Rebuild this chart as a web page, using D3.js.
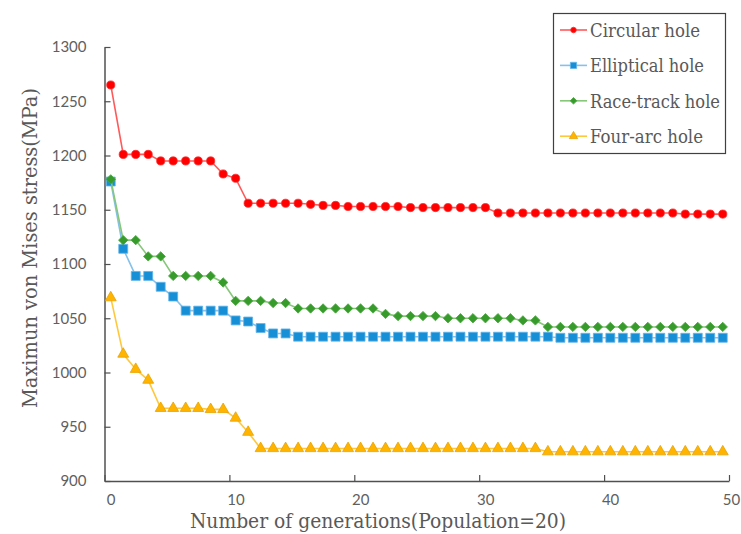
<!DOCTYPE html>
<html>
<head>
<meta charset="utf-8">
<script src="https://cdn.jsdelivr.net/npm/d3@7"></script>
<style>
  body { margin: 0; background: #fff; }
  svg { display: block; }
</style>
</head>
<body>
<script>
// generation index (categories)
const generations = d3.range(0, 50);
const xTicks = [0, 10, 20, 30, 40, 50];
const yTicks = [900, 950, 1000, 1050, 1100, 1150, 1200, 1250, 1300];
const seriesNames = ["Circular hole", "Elliptical hole", "Race-track hole", "Four-arc hole"];

const circular = [1265, 1201, 1201, 1201, 1195, 1195, 1195, 1195, 1195, 1183,
  1179, 1156, 1156, 1156, 1156, 1156, 1155, 1154, 1154, 1153,
  1153, 1153, 1153, 1153, 1152, 1152, 1152, 1152, 1152, 1152,
  1152, 1147, 1147, 1147, 1147, 1147, 1147, 1147, 1147, 1147,
  1147, 1147, 1147, 1147, 1147, 1147, 1146, 1146, 1146, 1146];
const elliptical = [1176, 1114, 1089, 1089, 1079, 1070, 1057, 1057, 1057, 1057,
  1048, 1047, 1041, 1036, 1036, 1033, 1033, 1033, 1033, 1033,
  1033, 1033, 1033, 1033, 1033, 1033, 1033, 1033, 1033, 1033,
  1033, 1033, 1033, 1033, 1033, 1033, 1032, 1032, 1032, 1032,
  1032, 1032, 1032, 1032, 1032, 1032, 1032, 1032, 1032, 1032];
const raceTrack = [1178, 1122, 1122, 1107, 1107, 1089, 1089, 1089, 1089, 1083,
  1066, 1066, 1066, 1064, 1064, 1059, 1059, 1059, 1059, 1059,
  1059, 1059, 1054, 1052, 1052, 1052, 1052, 1050, 1050, 1050,
  1050, 1050, 1050, 1048, 1048, 1042, 1042, 1042, 1042, 1042,
  1042, 1042, 1042, 1042, 1042, 1042, 1042, 1042, 1042, 1042];
const fourArc = [1069, 1017, 1003, 993, 967, 967, 967, 967, 966, 966,
  958, 945, 930, 930, 930, 930, 930, 930, 930, 930,
  930, 930, 930, 930, 930, 930, 930, 930, 930, 930,
  930, 930, 930, 930, 930, 927, 927, 927, 927, 927,
  927, 927, 927, 927, 927, 927, 927, 927, 927, 927];

const width = 741, height = 534;
const plotL = 104.5, plotR = 729, plotT = 47, plotB = 481;

const svg = d3.select("body").append("svg")
  .attr("width", width)
  .attr("height", height);

const x = d3.scaleLinear().domain([0, 50]).range([plotL, plotR]);
const band = d3.scaleBand().domain(generations).range([plotL, plotR]);
const y = d3.scaleLinear().domain([900, 1300]).range([plotB, plotT]);

const styles = [
  { data: circular, line: "#ff5a5a", fill: "#ff0000", stroke: "#ff2a2a", type: d3.symbolCircle, size: 52, lsize: 24, rot: 0 },
  { data: elliptical, line: "#85c1e9", fill: "#168fd6", stroke: "#62b4ea", type: d3.symbolSquare, size: 80, lsize: 38, rot: 0 },
  { data: raceTrack, line: "#86c77a", fill: "#379b2c", stroke: "#4aa83e", type: d3.symbolSquare, size: 44, lsize: 22, rot: 45 },
  { data: fourArc, line: "#ffc83c", fill: "#ffb400", stroke: "#e9a200", type: d3.symbolTriangle, size: 52, lsize: 30, rot: 0 }
];

const cx = (i) => band(i) + band.bandwidth() / 2;

// axes
const xAxis = d3.axisBottom(x)
  .tickValues(xTicks)
  .tickFormat(d3.format("d"))
  .tickSizeInner(-6)
  .tickSizeOuter(0)
  .tickPadding(13);
const gx = svg.append("g")
  .attr("transform", `translate(0,${plotB})`)
  .call(xAxis);
gx.selectAll("text").attr("x", (d) => d === 50 ? 2 : 6);

const yAxis = d3.axisLeft(y)
  .tickValues(yTicks)
  .tickFormat(d3.format("d"))
  .tickSizeInner(-6)
  .tickSizeOuter(0)
  .tickPadding(18);
const gy = svg.append("g")
  .attr("transform", `translate(${plotL},0)`)
  .call(yAxis);

svg.selectAll(".domain").attr("stroke", "#505050").attr("stroke-width", 1.5);
svg.selectAll(".tick line").attr("stroke", "#505050").attr("stroke-width", 1.2);
svg.selectAll(".tick text")
  .style("font-family", "Lato, 'Open Sans', sans-serif")
  .style("font-size", "15px")
  .attr("fill", "#5f5f5f");

// series
const line = d3.line()
  .x((d, i) => cx(i))
  .y((d) => y(d));

styles.forEach((s) => {
  svg.append("path")
    .datum(s.data)
    .attr("fill", "none")
    .attr("stroke", s.line)
    .attr("stroke-width", 1.6)
    .attr("d", line);
  svg.append("g").selectAll("path")
    .data(s.data)
    .join("path")
    .attr("d", d3.symbol().type(s.type).size(s.size))
    .attr("transform", (d, i) => `translate(${cx(i)},${y(d)}) rotate(${s.rot})`)
    .attr("fill", s.fill)
    .attr("stroke", s.stroke)
    .attr("stroke-width", 0.8);
});

// axis titles
svg.append("text")
  .attr("x", 378)
  .attr("y", 528)
  .attr("text-anchor", "middle")
  .attr("textLength", 376)
  .attr("lengthAdjust", "spacingAndGlyphs")
  .style("font-family", "'DejaVu Serif', serif")
  .style("font-size", "20px")
  .attr("fill", "#595959")
  .text("Number of generations(Population=20)");

svg.append("text")
  .attr("transform", "translate(37,248) rotate(-90)")
  .attr("text-anchor", "middle")
  .attr("textLength", 320)
  .attr("lengthAdjust", "spacingAndGlyphs")
  .style("font-family", "'DejaVu Serif', serif")
  .style("font-size", "21px")
  .attr("fill", "#595959")
  .text("Maximun von Mises stress(MPa)");

// legend
const legend = svg.append("g");
legend.append("rect")
  .attr("x", 553.5)
  .attr("y", 13.5)
  .attr("width", 172)
  .attr("height", 140)
  .attr("fill", "#fff")
  .attr("stroke", "#404040")
  .attr("stroke-width", 1.2);

const legendWidths = [110, 114, 130, 113];
styles.forEach((s, k) => {
  const ly = 30 + k * 35.4;
  legend.append("line")
    .attr("x1", 560).attr("x2", 587)
    .attr("y1", ly).attr("y2", ly)
    .attr("stroke", s.line)
    .attr("stroke-width", 1.6);
  legend.append("path")
    .attr("d", d3.symbol().type(s.type).size(s.lsize))
    .attr("transform", `translate(573.5,${ly}) rotate(${s.rot})`)
    .attr("fill", s.fill)
    .attr("stroke", s.stroke)
    .attr("stroke-width", 0.8);
  legend.append("text")
    .attr("x", 590)
    .attr("y", ly + 7)
    .attr("textLength", legendWidths[k])
    .attr("lengthAdjust", "spacingAndGlyphs")
    .style("font-family", "'DejaVu Serif', serif")
    .style("font-size", "19px")
    .attr("fill", "#595959")
    .text(seriesNames[k]);
});
</script>
</body>
</html>
